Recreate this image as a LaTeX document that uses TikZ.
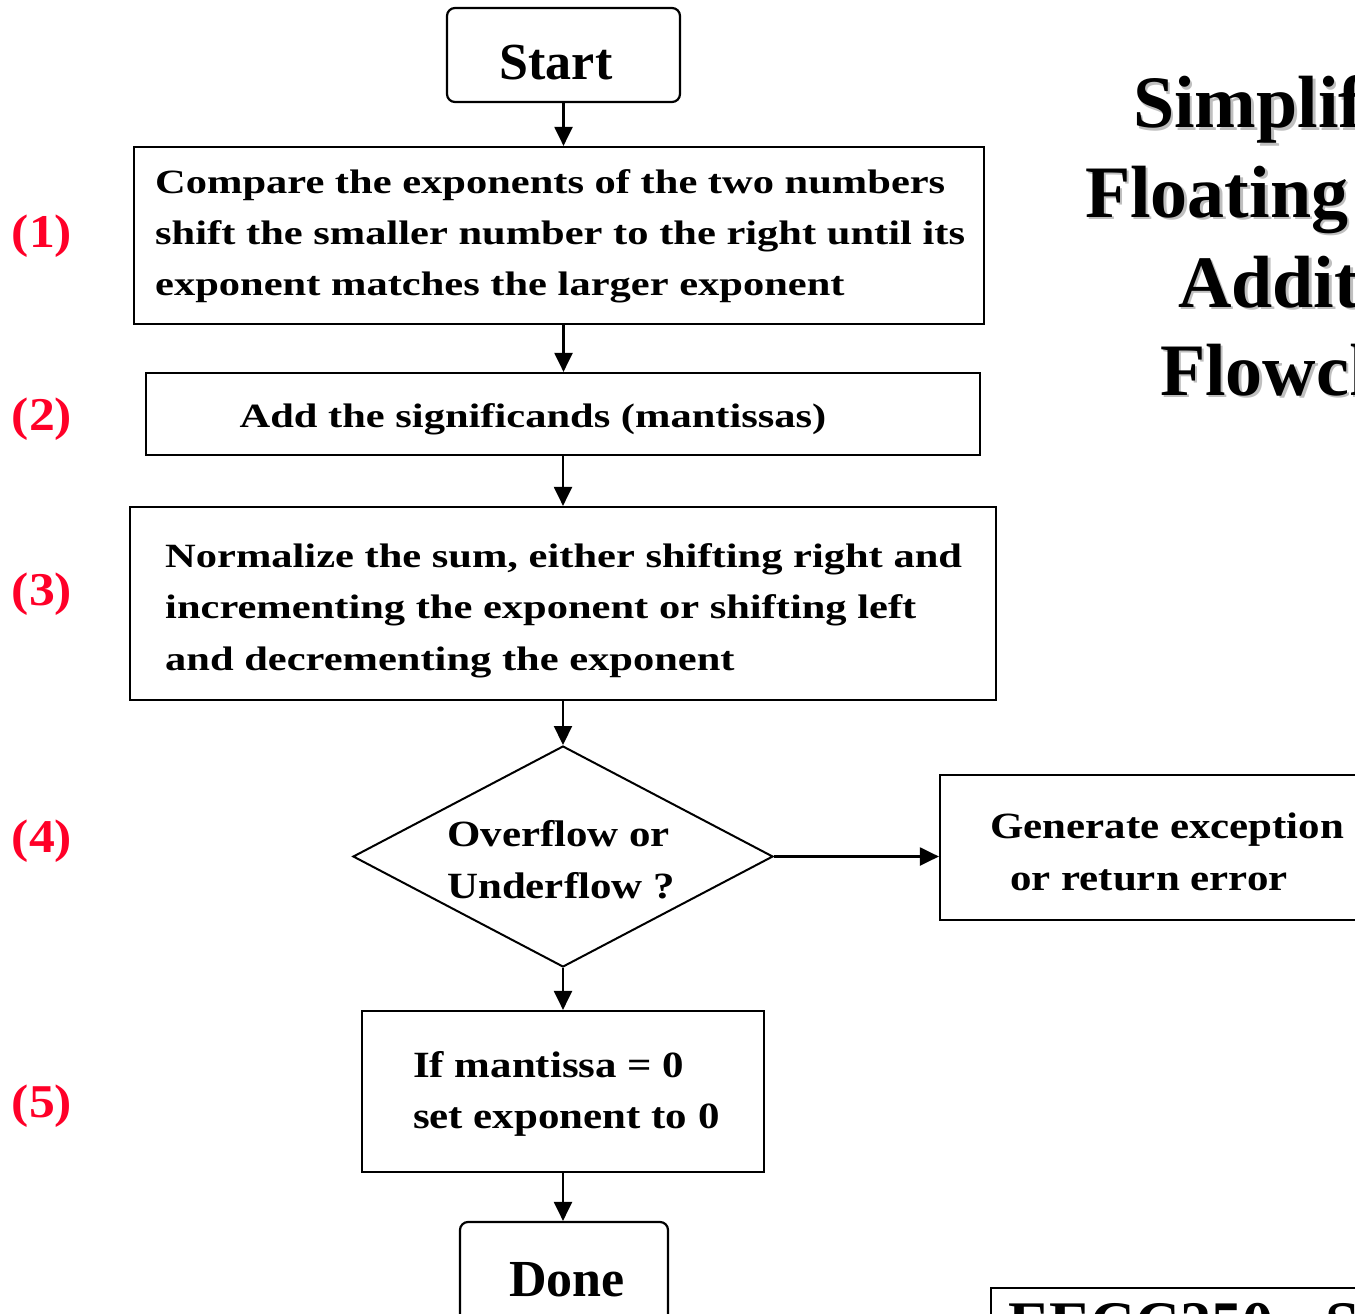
\documentclass[tikz,border=0pt]{standalone}
\usepackage{fontspec}
\setmainfont{Liberation Serif}
\newfontfamily\boxfont[FakeStretch=1.25]{Liberation Serif Bold}
\newfontfamily\boxfontb[FakeStretch=1.16]{Liberation Serif Bold}
\newfontfamily\lblfont[FakeStretch=1.1]{Liberation Serif Bold}
\usetikzlibrary{shapes.geometric,arrows.meta}
\definecolor{lblred}{RGB}{255,0,40}
\begin{document}
\begin{tikzpicture}[x=1pt,y=-1pt,
  boxstyle/.style={draw,line width=2.2pt,inner sep=0pt,rectangle},
  termstyle/.style={draw,line width=2.2pt,inner sep=0pt,rectangle,rounded corners=8pt},
  txt/.style={inner sep=0pt,anchor=base west,font=\boxfont\fontsize{34}{40}\selectfont},
  txtb/.style={inner sep=0pt,anchor=base west,font=\boxfontb\fontsize{37}{44}\selectfont},
  lbl/.style={inner sep=0pt,anchor=base,text=lblred,font=\lblfont\fontsize{47}{50}\selectfont},
  ttl/.style={inner sep=0pt,anchor=base west,font=\fontsize{74}{80}\selectfont\bfseries},
  arr/.style={line width=2.2pt,-{Triangle[length=19pt,width=18pt]}}]
\useasboundingbox (0,0) rectangle (1355,1314);
\clip (0,0) rectangle (1355,1314);
% title with shadow
\foreach \dx/\col in {2.5/gray!50,0/black}{
  \node[ttl,text=\col] (t1\dx) at (1133+\dx,128+\dx) {Simplified};
  \node[ttl,text=\col] (t2\dx) at (1085+\dx,217+\dx) {Floating Point};
  \node[ttl,text=\col] (t3\dx) at (1178+\dx,307+\dx) {Addition};
  \node[ttl,text=\col] (t4\dx) at (1160+\dx,395+\dx) {Flowchart};
}
% boxes
\node[termstyle,minimum width=233pt,minimum height=94pt] (start) at (563.5,55) {};
\node[inner sep=0pt,anchor=base,font=\fontsize{52}{56}\selectfont\bfseries] (starttxt) at (556,80) {Start};
\node[boxstyle,minimum width=850pt,minimum height=177pt] (b1) at (559,235.5) {};
\node[txt] (b1a) at (155,193) {Compare the exponents of the two numbers};
\node[txt] (b1b) at (155,244) {shift the smaller number to the right until its};
\node[txt] (b1c) at (155,295) {exponent matches the larger exponent};
\node[boxstyle,minimum width=834pt,minimum height=82pt] (b2) at (563,414) {};
\node[txt,anchor=base] (b2a) at (533,427) {Add the significands (mantissas)};
\node[boxstyle,minimum width=866pt,minimum height=193pt] (b3) at (563,603.5) {};
\node[txt] (b3a) at (165,567) {Normalize the sum, either shifting right and};
\node[txt] (b3b) at (165,618) {incrementing the exponent or shifting left};
\node[txt] (b3c) at (165,670) {and decrementing the exponent};
\node[diamond,draw,line width=2pt,inner sep=0pt,minimum width=420pt,minimum height=221pt] (dia) at (563,856.5) {};
\node[txtb] (d1) at (447,846) {Overflow or};
\node[txtb] (d2) at (447,898) {Underflow ?};
\node[boxstyle,minimum width=430pt,minimum height=145pt] (exc) at (1155,847.5) {};
\node[txtb] (e1) at (990,838) {Generate exception};
\node[txtb] (e2) at (1010,890) {or return error};
\node[boxstyle,minimum width=402pt,minimum height=161pt] (b5) at (563,1091.5) {};
\node[txtb] (f1) at (413,1077) {If mantissa = 0};
\node[txtb] (f2) at (413,1128) {set exponent to 0};
\node[termstyle,minimum width=208pt,minimum height=108pt] (done) at (564,1276) {};
\node[inner sep=0pt,anchor=base,font=\fontsize{52}{56}\selectfont\bfseries] (donetxt) at (567,1296) {Done};
% bottom right box
\node[boxstyle,minimum width=420pt,minimum height=100pt,anchor=north west] (foot) at (990,1287) {};
\node[inner sep=0pt,anchor=base west,font=\fontsize{62}{66}\selectfont\bfseries] (foottxt) at (1008,1344) {EECC250 - Shaaban};
% labels
\node[lbl] (l1) at (42,247) {(1)};
\node[lbl] (l2) at (42,430) {(2)};
\node[lbl] (l3) at (42,605) {(3)};
\node[lbl] (l4) at (42,852) {(4)};
\node[lbl] (l5) at (42,1117) {(5)};
% connectors
\draw[arr] (start.south) -- (start.south |- b1.north);
\draw[arr] (b1.south -| start.south) -- (start.south |- b2.north);
\draw[arr] (b2.south) -- (b3.north);
\draw[arr] (b3.south) -- (dia.north);
\draw[arr] (dia.east) -- (dia.east -| exc.west);
\draw[arr] (dia.south) -- (b5.north);
\draw[arr] (b5.south) -- (b5.south |- done.north);
\end{tikzpicture}
\end{document}
